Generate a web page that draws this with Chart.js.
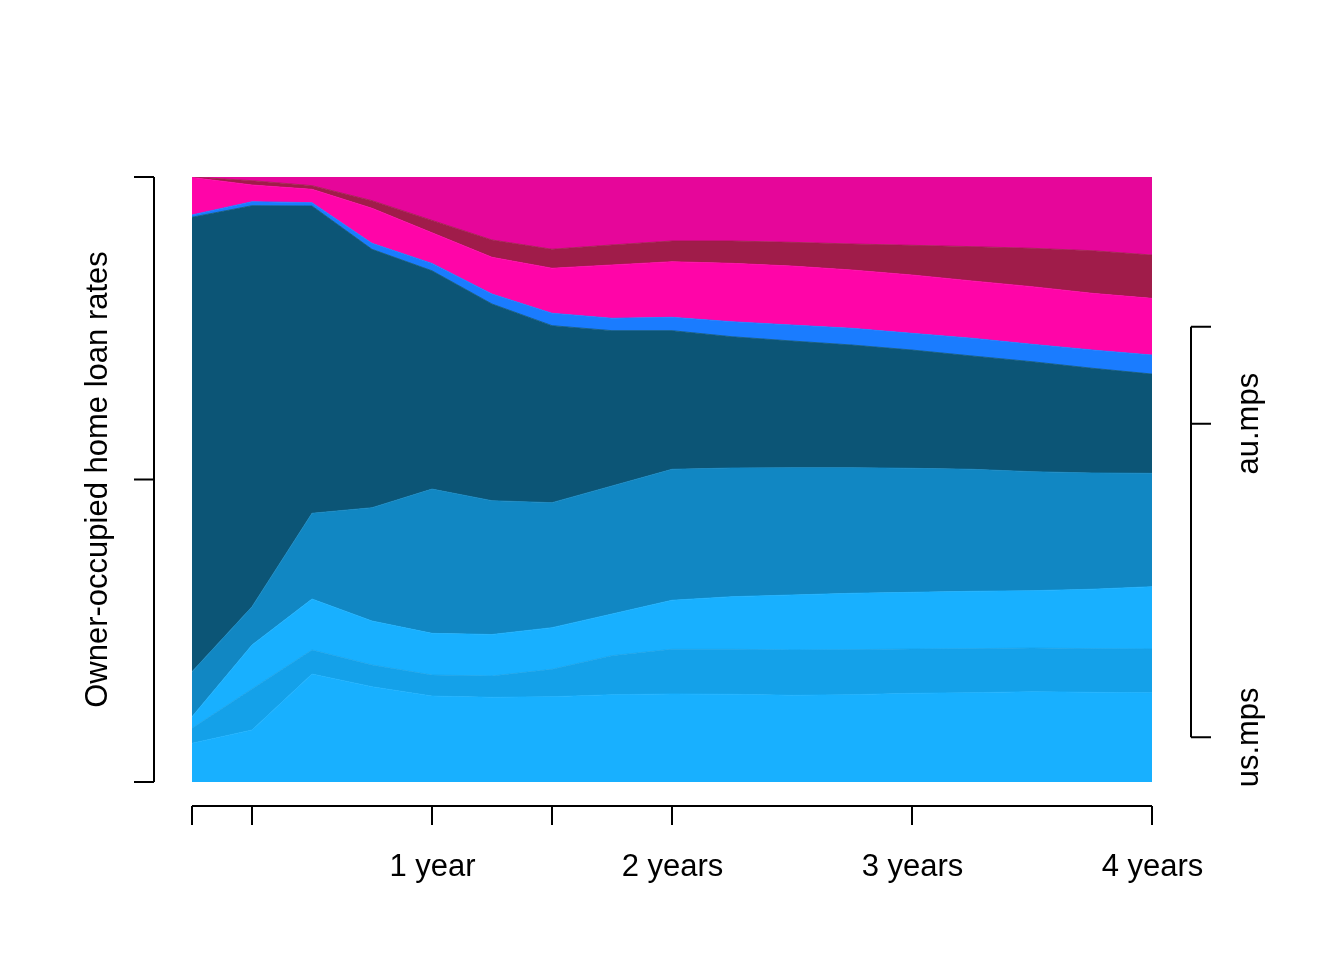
<!DOCTYPE html>
<html>
<head>
<meta charset="utf-8">
<script src="https://cdn.jsdelivr.net/npm/chart.js@4.4.1/dist/chart.umd.min.js"></script>
<style>
  html, body { margin: 0; padding: 0; background: #ffffff; }
  canvas { display: block; }
</style>
</head>
<body>
<canvas id="c" width="1344" height="960"></canvas>
<script>
// ---- data (shares in percent, bottom layer first) ----
const months = [0, 3, 6, 9, 12, 15, 18, 21, 24, 27, 30, 33, 36, 39, 42, 45, 48];

const usMps   = [6.40, 8.60, 17.85, 15.75, 14.21, 14.00, 14.10, 14.43, 14.55, 14.50, 14.33, 14.43, 14.66, 14.76, 14.93, 14.83, 14.76];
const series2 = [2.48, 6.78, 3.97, 3.59, 3.47, 3.52, 4.53, 6.45, 7.39, 7.44, 7.49, 7.44, 7.32, 7.27, 7.22, 7.21, 7.22];
const series3 = [1.92, 7.27, 8.43, 7.27, 6.89, 6.86, 6.88, 6.89, 8.10, 8.69, 9.09, 9.32, 9.37, 9.49, 9.47, 9.82, 10.30];
const series4 = [7.44, 6.33, 14.17, 18.73, 23.85, 22.12, 20.66, 21.16, 21.65, 21.27, 21.04, 20.76, 20.50, 20.17, 19.67, 19.22, 18.74];
const auMps   = [75.11, 66.28, 50.79, 42.71, 36.08, 32.51, 29.26, 25.67, 22.91, 21.70, 20.94, 20.28, 19.55, 18.73, 18.18, 17.31, 16.41];
const series6 = [0.38, 0.66, 0.55, 0.99, 1.22, 1.65, 2.05, 2.05, 2.21, 2.48, 2.64, 2.76, 2.76, 2.93, 2.88, 3.02, 3.14];
const series7 = [6.20, 2.76, 2.21, 5.79, 5.06, 6.07, 7.44, 8.81, 9.19, 9.65, 9.75, 9.64, 9.64, 9.47, 9.52, 9.37, 9.37];
const series8 = [0.08, 0.71, 0.60, 1.26, 2.05, 2.86, 3.14, 3.31, 3.42, 3.69, 3.92, 4.30, 4.91, 5.67, 6.35, 7.04, 7.16];
const series9 = [0.00, 0.61, 1.44, 3.92, 7.16, 10.41, 11.95, 11.24, 10.58, 10.58, 10.79, 11.07, 11.29, 11.52, 11.79, 12.18, 12.89];

const seriesNames = ["us.mps", "s2", "s3", "s4", "au.mps", "s6", "s7", "s8", "s9"];
const seriesColors = ["#18B0FF", "#14A1E9", "#18B0FF", "#1187C3", "#0C5576", "#1A7CFF", "#FF05A8", "#A01C4A", "#E6069A"];

const xTicks = [0, 3, 12, 18, 24, 36, 48];
const xTickLabels = ["", "", "1 year", "", "2 years", "3 years", "4 years"];
const leftTicks = [0, 50, 100];
const yTitle = "Owner-occupied home loan rates";
// right-axis: series indices whose end-of-range midpoints are marked, and their labels
const rightTickSeries = [0, 4, 6];
const rightTickLabels = ["us.mps", "au.mps", ""];

const allSeries = [usMps, series2, series3, series4, auMps, series6, series7, series8, series9];

const datasets = allSeries.map((vals, i) => ({
  label: seriesNames[i],
  data: vals.map((v, j) => ({ x: months[j], y: v })),
  backgroundColor: seriesColors[i],
  borderColor: seriesColors[i],
  borderWidth: 0.8,
  pointRadius: 0,
  tension: 0,
  fill: i === 0 ? 'origin' : '-1'
}));

const FONT = '31px "Liberation Sans", Arial, Helvetica, sans-serif';

const axesPlugin = {
  id: 'rAxes',
  afterDraw(chart) {
    const ctx = chart.ctx;
    const xs = chart.scales.x, ys = chart.scales.y;
    const area = chart.chartArea;
    ctx.save();
    ctx.strokeStyle = '#000';
    ctx.fillStyle = '#000';
    ctx.lineWidth = 2;
    ctx.lineCap = 'butt';

    // bottom axis
    const axY = 806;
    const tl = 19;
    ctx.beginPath();
    ctx.moveTo(xs.getPixelForValue(xTicks[0]), axY);
    ctx.lineTo(xs.getPixelForValue(xTicks[xTicks.length - 1]), axY);
    xTicks.forEach(t => {
      const px = xs.getPixelForValue(t);
      ctx.moveTo(px, axY);
      ctx.lineTo(px, axY + tl);
    });
    ctx.stroke();
    ctx.font = FONT;
    ctx.textAlign = 'center';
    ctx.textBaseline = 'alphabetic';
    xTicks.forEach((t, i) => {
      if (xTickLabels[i]) ctx.fillText(xTickLabels[i], xs.getPixelForValue(t) + 0.5, 876);
    });

    // left axis
    const axX = 154;
    ctx.beginPath();
    ctx.moveTo(axX, ys.getPixelForValue(leftTicks[0]));
    ctx.lineTo(axX, ys.getPixelForValue(leftTicks[leftTicks.length - 1]));
    leftTicks.forEach(t => {
      const py = ys.getPixelForValue(t);
      ctx.moveTo(axX, py);
      ctx.lineTo(axX - 20, py);
    });
    ctx.stroke();

    ctx.save();
    ctx.translate(107, (area.top + area.bottom) / 2);
    ctx.rotate(-Math.PI / 2);
    ctx.textAlign = 'center';
    ctx.fillText(yTitle, 0, 0);
    ctx.restore();

    // right axis: midpoints of selected layers at the last x
    const last = months.length - 1;
    const mids = rightTickSeries.map(si => {
      let base = 0;
      for (let k = 0; k < si; k++) base += allSeries[k][last];
      return base + allSeries[si][last] / 2;
    });
    const rX = 1191;
    const pys = mids.map(m => ys.getPixelForValue(m));
    ctx.beginPath();
    ctx.moveTo(rX, Math.min(...pys));
    ctx.lineTo(rX, Math.max(...pys));
    pys.forEach(py => {
      ctx.moveTo(rX, py);
      ctx.lineTo(rX + 20, py);
    });
    ctx.stroke();
    pys.forEach((py, i) => {
      if (!rightTickLabels[i]) return;
      ctx.save();
      ctx.translate(1258, py);
      ctx.rotate(-Math.PI / 2);
      ctx.textAlign = 'center';
      ctx.fillText(rightTickLabels[i], 0, 0);
      ctx.restore();
    });
    ctx.restore();
  }
};

new Chart(document.getElementById('c'), {
  type: 'line',
  data: { datasets },
  options: {
    responsive: false,
    animation: false,
    devicePixelRatio: 1,
    layout: { padding: { left: 192, right: 192, top: 177, bottom: 178 } },
    plugins: { legend: { display: false }, tooltip: { enabled: false }, filler: { propagate: false } },
    scales: {
      x: { type: 'linear', min: 0, max: 48, display: false },
      y: { stacked: true, min: 0, max: 100, display: false }
    }
  },
  plugins: [axesPlugin]
});
</script>
</body>
</html>
